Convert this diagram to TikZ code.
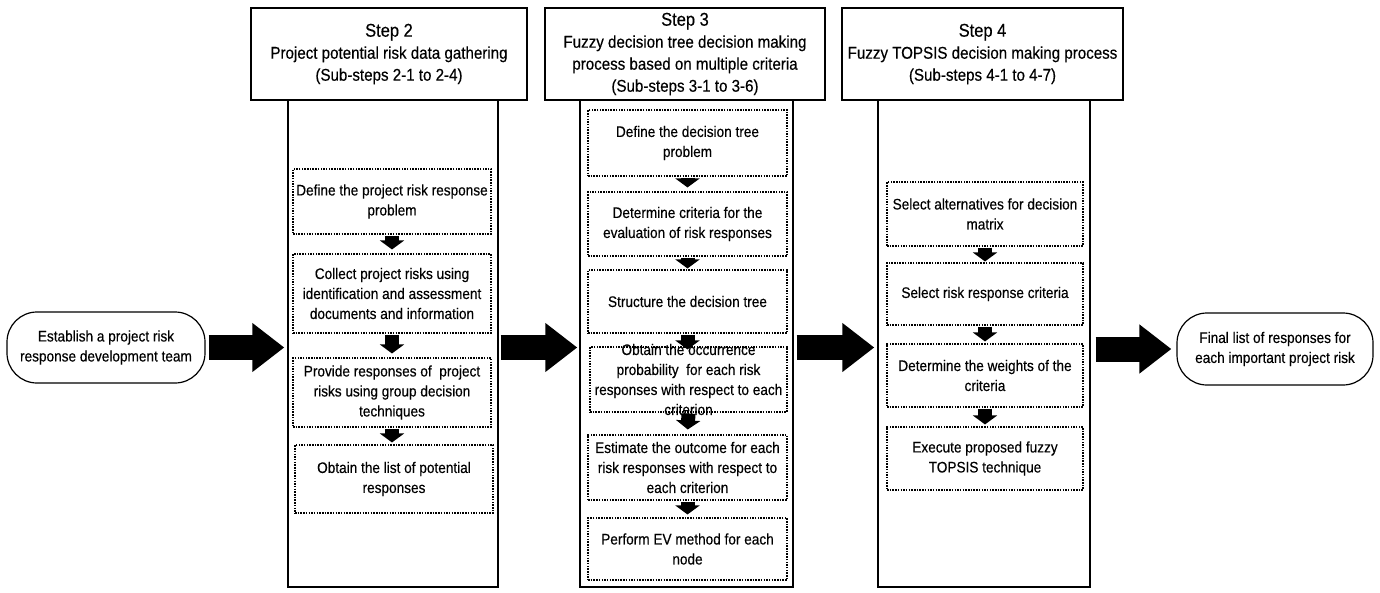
\documentclass[tikz,border=0pt]{standalone}
\usepackage{fontspec}
\setmainfont{Liberation Sans}[FakeStretch=0.89, FakeBold=0.35]
\usetikzlibrary{arrows.meta}
\newcommand\myBody{\fontsize{15.3}{20}\selectfont}
\newcommand\myHdr{\fontsize{17}{22}\selectfont}
\newcommand\myStep{\fontsize{18.5}{22}\selectfont}
\begin{document}
\begin{tikzpicture}[x=1pt,y=-1pt,
  hdr/.style={draw, line width=1.4pt, minimum height=92pt, inner sep=0pt, align=center, font=\myHdr},
  col/.style={draw, line width=1.4pt, minimum height=487pt, inner sep=0pt},
  dbox/.style={draw, line width=1.1pt, dash pattern=on 1.5pt off 1.2pt, inner sep=0pt},
  txt/.style={align=center, font=\myBody, inner sep=0pt},
  term/.style={draw, line width=1.2pt, rounded corners=30pt, inner sep=0pt, align=center, font=\myBody},
  bigarrow/.style={line width=25pt, -{Triangle[width=47pt,length=32pt]}},
  sarrow/.style={line width=14pt, -{Triangle[width=24pt,length=9pt]}, shorten <=1pt, shorten >=4pt}
]
\useasboundingbox (0,0) rectangle (1380,592);

% terminals
\node[term, minimum width=198pt, minimum height=71pt] (lb) at (106,347.5) {Establish a project risk\\response development team};
\node[term, minimum width=196pt, minimum height=72pt] (rb) at (1275,349) {Final list of responses for\\each important project risk};

% columns
\node[col, minimum width=210pt] (c2) at (393,343.5) {};
\node[col, minimum width=213pt] (c3) at (686.5,343.5) {};
\node[col, minimum width=212pt] (c4) at (984,343.5) {};

% headers
\node[hdr, minimum width=276pt, fill=white] (h2) at (389,54) {{\myStep Step 2}\\Project potential risk data gathering\\(Sub-steps 2-1 to 2-4)};
\node[hdr, minimum width=280pt, fill=white] (h3) at (685,54) {{\myStep Step 3}\\Fuzzy decision tree decision making\\process based on multiple criteria\\(Sub-steps 3-1 to 3-6)};
\node[hdr, minimum width=281pt, fill=white] (h4) at (982.5,54) {{\myStep Step 4}\\Fuzzy TOPSIS decision making process\\(Sub-steps 4-1 to 4-7)};

% step 2 boxes
\node[dbox, minimum width=198pt, minimum height=65pt] (b21) at (392,201.5) {};
\node[txt] at (b21) {Define the project risk response\\problem};
\node[dbox, minimum width=198pt, minimum height=79pt] (b22) at (392,293.5) {};
\node[txt] at (b22) {Collect project risks using\\identification and assessment\\documents and information};
\node[dbox, minimum width=198pt, minimum height=69pt] (b23) at (392,392.5) {};
\node[txt] at (b23) {Provide responses of~ project\\risks using group decision\\techniques};
\node[dbox, minimum width=198pt, minimum height=68pt] (b24) at (394,479) {};
\node[txt] at (b24) {Obtain the list of potential\\responses};

% step 3 boxes
\node[dbox, minimum width=199pt, minimum height=66pt] (b31) at (687.5,143) {};
\node[txt] at (b31) {Define the decision tree\\problem};
\node[dbox, minimum width=199pt, minimum height=64pt] (b32) at (687.5,224) {};
\node[txt] at (b32) {Determine criteria for the\\evaluation of risk responses};
\node[dbox, minimum width=199pt, minimum height=63pt] (b33) at (687.5,301.5) {};
\node[txt] at (b33) {Structure the decision tree};
\node[dbox, minimum width=197pt, minimum height=65pt] (b34) at (688.5,379.5) {};
\node[txt] at (b34) {Obtain the occurrence\\probability~ for each risk\\responses with respect to each\\criterion};
\node[dbox, minimum width=199pt, minimum height=65pt] (b35) at (687.5,467.5) {};
\node[txt] at (b35) {Estimate the outcome for each\\risk responses with respect to\\each criterion};
\node[dbox, minimum width=199pt, minimum height=62pt] (b36) at (687.5,549) {};
\node[txt] at (b36) {Perform EV method for each\\node};

% step 4 boxes
\node[dbox, minimum width=196pt, minimum height=64pt] (b41) at (985,214) {};
\node[txt] at (b41) {Select alternatives for decision\\matrix};
\node[dbox, minimum width=196pt, minimum height=62pt] (b42) at (985,294) {};
\node[txt] at (b42) {Select risk response criteria};
\node[dbox, minimum width=196pt, minimum height=63pt] (b43) at (985,375.5) {};
\node[txt] at (b43) {Determine the weights of the\\criteria};
\node[dbox, minimum width=196pt, minimum height=63pt] (b44) at (985,458.5) {};
\node[txt] at (b44) {Execute proposed fuzzy\\TOPSIS technique};

% small arrows
\draw[sarrow] (b21.south) -- (b22.north);
\draw[sarrow] (b22.south) -- (b23.north);
\draw[sarrow, shorten >=2pt] (b23.south) -- (b23.south |- b24.north);
\draw[sarrow] (b31.south) -- (b32.north);
\draw[sarrow, shorten >=1pt] (b32.south) -- (b33.north);
\draw[sarrow, shorten >=-3pt] (b33.south) -- (b33.south |- b34.north);
\draw[sarrow, shorten >=5pt] (b34.south) -- (b35.north);
\draw[sarrow, shorten >=3pt] (b35.south) -- (b36.north);
\draw[sarrow, shorten >=1pt] (b41.south) -- (b42.north);
\draw[sarrow, shorten >=2pt] (b42.south) -- (b43.north);
\draw[sarrow, shorten >=2pt] (b43.south) -- (b44.north);

% big arrows
\draw[bigarrow, shorten <=3pt, shorten >=3pt] (lb.east) -- (c2.west |- lb.east);
\draw[bigarrow, shorten <=2pt, shorten >=2pt] (c2.east |- lb.east) -- (c3.west |- lb.east);
\draw[bigarrow, shorten <=3pt, shorten >=3pt] (c3.east |- lb.east) -- (c4.west |- lb.east);
\draw[bigarrow, shorten <=5pt, shorten >=5pt] (c4.east |- rb.west) -- (rb.west);
\end{tikzpicture}
\end{document}
